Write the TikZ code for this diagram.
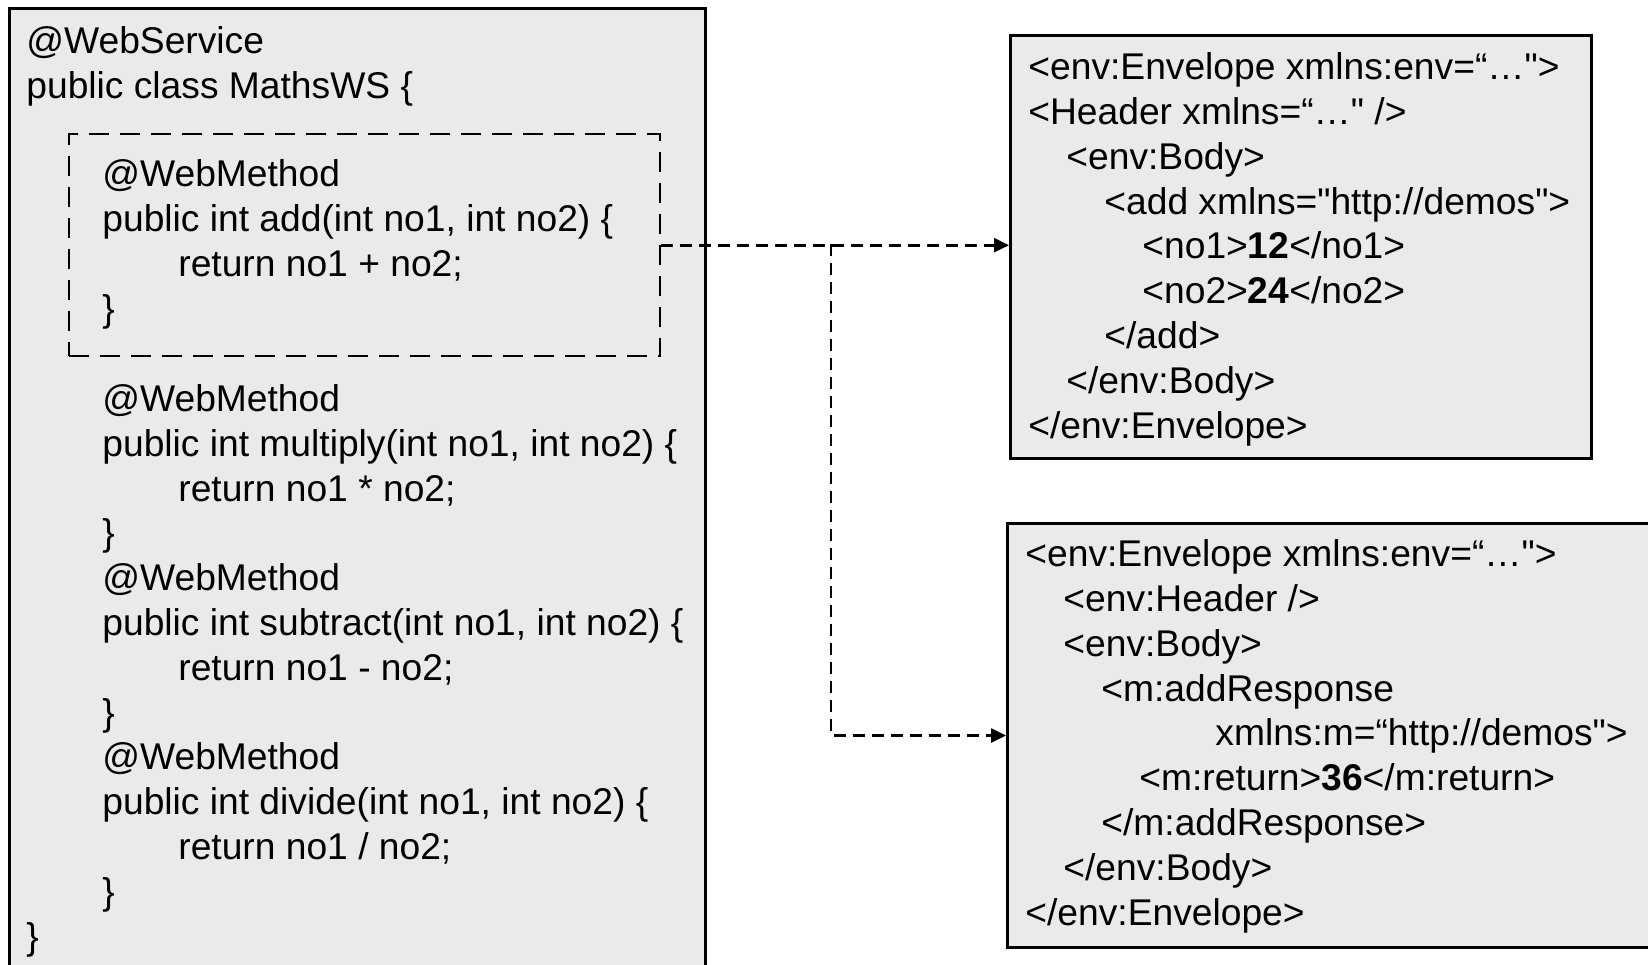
\documentclass[tikz,border=0pt]{standalone}
\usepackage{fontspec}
\setmainfont{Liberation Sans}[Ligatures=TeXOff]
\usepackage{xcolor}
\usepackage{tikz}
\usetikzlibrary{
  positioning,
  arrows.meta,
  calc
}
\definecolor{boxgray}{RGB}{234,234,234}
\newlength\indw
\setlength\indw{19pt}
\newcommand{\ind}[1]{\hspace*{#1\indw}}

\begin{document}
\begin{tikzpicture}[x=0.5pt,y=-0.5pt,>={Triangle[length=7.5pt,width=7pt]},
    codebox/.style={draw=black,line width=1.5pt,fill=boxgray,inner sep=0pt,anchor=north west},
    codetext/.style={align=left,anchor=base west,inner sep=0pt,font={\fontsize{18.6pt}{22.4pt}\selectfont}},
    methodbox/.style={draw=black,line width=1.2pt,dash pattern=on 10pt off 5.5pt,inner sep=0pt,anchor=north west},
    link/.style={->,line width=1.3pt,dash pattern=on 6pt off 3.5pt}]
    \clip (0,0) rectangle (1648,964);
    % Java class (text nodes sit on their last baseline)
    \node[codebox,minimum width=348pt,minimum height=500pt] (cls) at (8,7) {};
    \node[methodbox,minimum width=295.5pt,minimum height=111pt] (addbox) at (68,133) {};
    \node[codetext] (head) at (26,98) {@WebService\\public class MathsWS \{};
    \node[codetext] (addcode) at (26,321) {\ind{2}@WebMethod\\
      \ind{2}public int add(int no1, int no2) \{\\
      \ind{4}return no1 + no2;\\
      \ind{2}\}};
    \node[codetext] (rest) at (26,949) {\ind{2}@WebMethod\\
      \ind{2}public int multiply(int no1, int no2) \{\\
      \ind{4}return no1 * no2;\\
      \ind{2}\}\\
      \ind{2}@WebMethod\\
      \ind{2}public int subtract(int no1, int no2) \{\\
      \ind{4}return no1 - no2;\\
      \ind{2}\}\\
      \ind{2}@WebMethod\\
      \ind{2}public int divide(int no1, int no2) \{\\
      \ind{4}return no1 / no2;\\
      \ind{2}\}\\
      \}};
    % SOAP request
    \node[codebox,minimum width=290.5pt,minimum height=211.5pt] (req) at (1009,34) {};
    \node[codetext] (reqtext) at (1028,438) {<env:Envelope xmlns:env=“…">\\
      <Header xmlns=“…" />\\
      \ind{1}<env:Body>\\
      \ind{2}<add xmlns="http://demos">\\
      \ind{3}<no1>\textbf{12}</no1>\\
      \ind{3}<no2>\textbf{24}</no2>\\
      \ind{2}</add>\\
      \ind{1}</env:Body>\\
      </env:Envelope>};
    % SOAP response
    \node[codebox,minimum width=350pt,minimum height=212pt] (resp) at (1006,522) {};
    \node[codetext] (resptext) at (1025,925) {<env:Envelope xmlns:env=“…">\\
      \ind{1}<env:Header />\\
      \ind{1}<env:Body>\\
      \ind{2}<m:addResponse\\
      \ind{5}xmlns:m=“http://demos">\\
      \ind{3}<m:return>\textbf{36}</m:return>\\
      \ind{2}</m:addResponse>\\
      \ind{1}</env:Body>\\
      </env:Envelope>};
    % messages
    \coordinate (split) at (831,244);
    \draw[link] (addbox.east) -- (addbox.east -| req.west);
    \draw[link] (split) |- (resp.west);
\end{tikzpicture}
\end{document}
